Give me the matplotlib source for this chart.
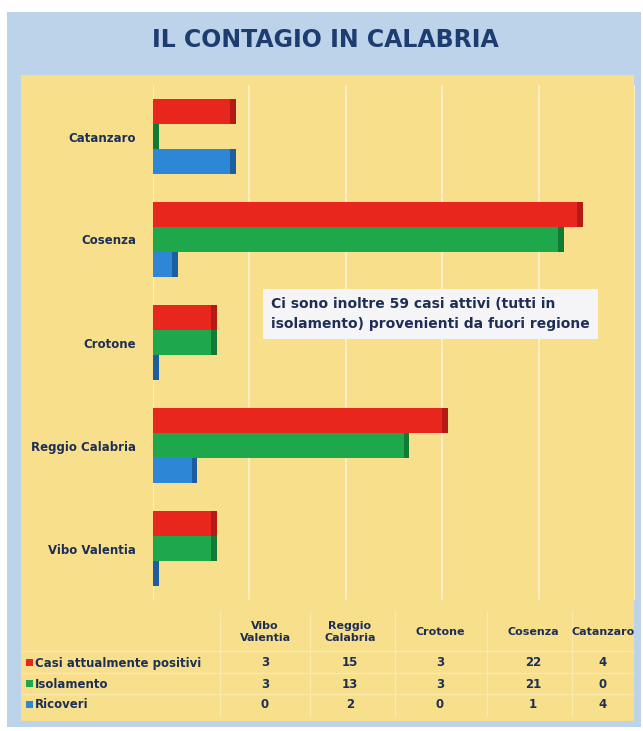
import matplotlib.pyplot as plt
from matplotlib.patches import Rectangle

# data
province = ['Catanzaro', 'Cosenza', 'Crotone', 'Reggio Calabria', 'Vibo Valentia']
positivi = [4, 22, 3, 15, 3]
isolamento = [0, 21, 3, 13, 3]
ricoveri = [4, 1, 0, 2, 0]
serie_nomi = ['Casi attualmente positivi', 'Isolamento', 'Ricoveri']
col_tabella = ['Vibo\nValentia', 'Reggio\nCalabria', 'Crotone', 'Cosenza', 'Catanzaro']
ordine_tabella = ['Vibo Valentia', 'Reggio Calabria', 'Crotone', 'Cosenza', 'Catanzaro']
nota = 'Ci sono inoltre 59 casi attivi (tutti in\nisolamento) provenienti da fuori regione'

W, H = 643, 731
rosso, rosso_s = '#e8261e', '#b51a14'
verde, verde_s = '#1fa84b', '#137a34'
blu, blu_s = '#2d86d6', '#1d5ea0'
giallo = '#f8df8c'
azzurro = '#bdd3ea'
navy = '#1e2f55'

fig = plt.figure(figsize=(W / 100, H / 100), dpi=100)
fig.patch.set_facecolor('white')

def px_rect(x0, y0, x1, y1, z=-2, **kw):
    fig.patches.append(Rectangle((x0 / W, 1 - y1 / H), (x1 - x0) / W, (y1 - y0) / H,
                                 transform=fig.transFigure, zorder=z, **kw))

px_rect(7, 12, 641, 727, facecolor=azzurro, edgecolor='none')
px_rect(21, 75, 634, 721, facecolor=giallo, edgecolor='none')

fig.text(325 / W, 1 - 40 / H, 'IL CONTAGIO IN CALABRIA', ha='center', va='center',
         fontsize=17, fontweight='bold', color='#1d3c70')

ax = fig.add_axes([153 / W, 1 - 600 / H, 482 / W, 515 / H])
ax.set_facecolor('none')
for s in ax.spines.values():
    s.set_visible(False)

y = list(range(len(province)))
h = 0.24
series = [(positivi, -h, rosso, rosso_s), (isolamento, 0, verde, verde_s), (ricoveri, h, blu, blu_s)]
for vals, off, c, cs in series:
    pos = [v + off for v in y]
    ax.barh(pos, vals, height=h, color=c, edgecolor='none', zorder=3)
    # darker end face for the 3D look
    ax.barh(pos, [0.3] * len(vals), left=vals, height=h, color=cs, edgecolor='none', zorder=3)

ax.set_xlim(0, 25)
ax.set_ylim(4.5, -0.5)
ax.set_xticks([0, 5, 10, 15, 20, 25])
ax.set_xticklabels([])
ax.tick_params(length=0)
ax.grid(axis='x', color='#fcefc4', linewidth=1.5, zorder=1)
ax.set_yticks(y)
ax.set_yticklabels(province, fontsize=8.5, fontweight='bold', color=navy)
ax.tick_params(axis='y', pad=12)

ax.text(0.245, 0.555, nota, transform=ax.transAxes, fontsize=10, fontweight='bold',
        color=navy, va='center', ha='left', linespacing=1.5,
        bbox=dict(facecolor='#f5f5f8', edgecolor='none', pad=6), zorder=5)

# table
xcol = [265, 350, 440, 533, 603]
for x, t in zip(xcol, col_tabella):
    fig.text(x / W, 1 - 632 / H, t, ha='center', va='center', fontsize=8,
             fontweight='bold', color=navy, linespacing=1.2)

righe = [positivi, isolamento, ricoveri]
colori = [rosso, verde, blu]
yrow = [663, 684, 705]
for nome, vals, c, yy in zip(serie_nomi, righe, colori, yrow):
    px_rect(26, yy - 4, 33, yy + 3, z=1, facecolor=c, edgecolor='none')
    fig.text(35 / W, 1 - yy / H, nome, ha='left', va='center', fontsize=8.5,
             fontweight='bold', color=navy)
    for x, p in zip(xcol, ordine_tabella):
        v = vals[province.index(p)]
        fig.text(x / W, 1 - yy / H, str(v), ha='center', va='center', fontsize=8.5,
                 fontweight='bold', color=navy)

for xl in [220, 310, 395, 487, 572]:
    fig.lines.append(plt.Line2D([xl / W, xl / W], [1 - 612 / H, 1 - 716 / H],
                                transform=fig.transFigure, color='#fbe9b0', lw=1.0))
for yl in [651, 673, 694]:
    fig.lines.append(plt.Line2D([22 / W, 633 / W], [1 - yl / H, 1 - yl / H],
                                transform=fig.transFigure, color='#fbe9b0', lw=1.0))

fig.savefig('out.png', dpi=100, facecolor=fig.get_facecolor())
